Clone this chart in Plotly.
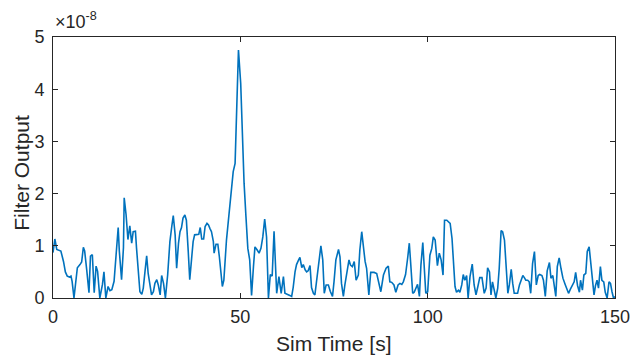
import plotly.graph_objects as go

# Sim time [s]
sim_time = [
    0.0, 0.5, 1.0, 1.7, 2.1, 2.8, 3.3, 3.8, 4.4, 4.8, 5.1, 5.6, 6.5, 7.2, 7.65, 8.1, 8.45, 9.0, 9.6, 10.0,
    10.5, 11.0, 11.5, 11.9, 12.5, 13.2, 13.6, 14.1, 14.7, 15.2, 15.7, 16.3, 16.8, 17.4, 17.7, 18.1, 18.3, 18.8, 19.0, 19.5,
    20.0, 20.5, 21.0, 21.4, 22.0, 22.3, 22.8, 23.2, 23.7, 24.1, 24.6, 25.0, 25.4, 25.9, 26.3, 26.8, 27.2, 27.7, 28.1, 28.6,
    29.0, 29.5, 30.0, 30.6, 31.2, 31.7, 32.1, 32.6, 33.0, 33.5, 33.9, 34.3, 34.7, 35.2, 35.6, 36.1, 36.5, 37.0, 37.4, 37.8,
    38.3, 38.9, 39.3, 39.7, 40.2, 40.6, 41.1, 41.5, 41.9, 42.3, 42.8, 43.0, 43.5, 44.0, 44.4, 44.8, 45.2, 45.6, 46.3, 47.0,
    47.6, 48.1, 48.6, 49.0, 49.5, 50.1, 50.5, 51.0, 51.5, 52.0, 52.5, 53.0, 53.5, 53.9, 54.5, 55.0, 55.5, 56.0, 56.5, 57.0,
    57.5, 58.0, 58.5, 59.0, 59.7, 60.3, 60.9, 61.5, 61.9, 62.6, 63.2, 63.7, 64.1, 64.6, 65.0, 65.5, 65.9, 66.4, 66.8, 67.3,
    67.7, 68.1, 68.6, 69.0, 69.5, 69.9, 70.5, 71.1, 71.5, 72.0, 72.4, 72.9, 73.5, 74.0, 74.6, 75.0, 75.5, 76.2, 76.6, 77.0,
    77.5, 77.9, 78.4, 79.0, 79.4, 79.9, 80.4, 80.9, 81.5, 81.9, 82.4, 82.8, 83.3, 83.7, 84.3, 84.8, 85.3, 85.7, 86.4, 87.0,
    87.5, 88.2, 88.9, 89.5, 89.9, 90.4, 91.0, 91.5, 92.1, 92.6, 93.1, 93.5, 94.1, 94.7, 95.1, 95.5, 96.0, 96.4, 96.9, 97.3,
    97.8, 98.2, 98.7, 99.1, 99.5, 100.0, 100.6, 101.1, 101.5, 102.0, 102.6, 103.1, 103.6, 104.1, 104.5, 105.1, 105.6, 106.0, 106.5, 106.9,
    107.3, 107.7, 108.2, 108.6, 109.1, 109.5, 109.9, 110.4, 110.8, 111.3, 111.9, 112.4, 112.9, 113.4, 113.9, 114.5, 115.1, 115.6, 116.0, 116.5,
    116.9, 117.3, 117.8, 118.2, 118.7, 119.1, 119.6, 120.0, 120.5, 120.9, 121.4, 121.8, 122.3, 122.7, 123.1, 123.6, 124.0, 124.5, 124.9, 125.4,
    125.8, 126.2, 126.7, 127.1, 127.5, 128.0, 128.5, 129.0, 129.5, 129.9, 130.5, 130.9, 131.4, 131.9, 132.5, 132.9, 133.4, 133.7, 134.2, 134.6,
    135.1, 135.6, 136.1, 136.7, 137.1, 137.6, 138.1, 138.6, 139.1, 139.5, 140.0, 140.5, 140.8, 141.3, 141.7, 142.2, 142.6, 143.1, 143.6, 144.0,
    144.4, 144.8, 145.2, 145.6, 146.1, 146.5, 147.0, 147.4, 147.9, 148.4, 148.8, 149.2, 149.6, 150.0,
]

# Filter output in units of 1e-8
filter_output_e8 = [
    0.87, 1.13, 0.93, 0.92, 0.9, 0.7, 0.5, 0.42, 0.4, 0.42, 0.32, 0.0, 0.58, 0.64, 0.69, 0.97, 0.9, 0.54, 0.1, 0.8,
    0.83, 0.1, 0.61, 0.51, 0.0, 0.26, 0.5, 0.0, 0.22, 0.14, 0.16, 0.32, 0.8, 1.35, 0.9, 0.45, 0.35, 0.96, 1.92, 1.6,
    1.12, 1.38, 1.05, 1.27, 1.28, 0.95, 0.44, 0.12, 0.07, 0.19, 0.54, 0.81, 0.47, 0.19, 0.06, 0.12, 0.28, 0.35, 0.25, 0.06,
    0.43, 0.28, 0.0, 0.44, 1.08, 1.37, 1.58, 1.21, 0.57, 1.05, 1.27, 1.35, 1.53, 1.59, 1.49, 0.89, 0.35, 0.76, 1.08, 1.21,
    1.22, 1.22, 1.35, 1.13, 1.13, 1.37, 1.43, 1.4, 1.33, 1.27, 1.08, 0.86, 1.03, 1.03, 0.79, 0.41, 0.22, 0.34, 1.11, 1.62,
    2.13, 2.42, 2.58, 3.6, 4.75, 4.11, 3.03, 2.2, 1.56, 0.95, 0.73, 0.05, 0.6, 0.98, 0.92, 0.86, 0.95, 1.17, 1.51, 1.17,
    0.0, 0.45, 0.42, 1.28, 0.09, 0.41, 0.09, 0.41, 0.09, 0.06, 0.05, 0.03, 0.2, 0.5, 0.64, 0.72, 0.78, 0.58, 0.64, 0.54,
    0.5, 0.52, 0.62, 0.2, 0.09, 0.06, 0.41, 0.79, 1.0, 0.73, 0.09, 0.25, 0.25, 0.13, 0.03, 0.31, 0.73, 0.93, 0.79, 0.28,
    0.03, 0.25, 0.5, 0.73, 0.63, 0.6, 0.7, 0.34, 0.44, 0.92, 1.27, 0.98, 0.7, 0.57, 0.06, 0.49, 0.49, 0.49, 0.47, 0.28,
    0.12, 0.44, 0.57, 0.61, 0.31, 0.3, 0.25, 0.11, 0.25, 0.28, 0.26, 0.31, 0.45, 0.79, 1.05, 0.63, 0.09, 0.11, 0.2, 0.26,
    0.03, 0.63, 1.06, 0.54, 0.09, 0.12, 0.82, 0.95, 1.17, 1.11, 0.62, 0.86, 0.73, 0.44, 1.49, 1.49, 1.46, 1.43, 1.14, 0.73,
    0.22, 0.11, 0.15, 0.11, 0.25, 0.45, 0.34, 0.43, 0.0, 0.41, 0.65, 0.25, 0.06, 0.22, 0.39, 0.39, 0.09, 0.19, 0.58, 0.5,
    0.06, 0.31, 0.12, 0.0, 0.19, 0.57, 1.29, 1.27, 1.11, 0.66, 0.09, 0.25, 0.55, 0.28, 0.09, 0.09, 0.09, 0.25, 0.34, 0.43,
    0.39, 0.34, 0.34, 0.31, 0.09, 0.66, 0.89, 0.25, 0.43, 0.45, 0.43, 0.34, 0.03, 0.52, 0.68, 0.38, 0.43, 0.25, 0.03, 0.6,
    0.77, 0.56, 0.38, 0.26, 0.17, 0.09, 0.17, 0.24, 0.31, 0.49, 0.24, 0.11, 0.34, 0.15, 0.44, 0.47, 0.89, 0.98, 0.6, 0.24,
    0.06, 0.24, 0.34, 0.19, 0.6, 0.34, 0.31, 0.11, 0.0, 0.31, 0.28, 0.12, 0.0, 0.03,
]

x_ticks = [0, 50, 100, 150]
y_ticks_e8 = [0, 1, 2, 3, 4, 5]
scale = 1e-8

filter_output = [v * scale for v in filter_output_e8]

axis_color = "#262626"
font_family = "Liberation Sans, Arial, Helvetica, sans-serif"

fig = go.Figure()
fig.add_trace(go.Scatter(
    x=sim_time, y=filter_output, mode="lines",
    line=dict(color="#0072BD", width=1.6),
    showlegend=False,
))

common_axis = dict(
    showline=True, linecolor=axis_color, linewidth=1,
    mirror="ticks", ticks="inside", ticklen=5, tickwidth=1, tickcolor=axis_color,
    showgrid=False, zeroline=False, automargin=False,
    tickfont=dict(family=font_family, size=18, color=axis_color),
)

fig.update_layout(
    width=633, height=357,
    margin=dict(l=53, r=18, t=37, b=59),
    paper_bgcolor="white", plot_bgcolor="white",
    xaxis=dict(
        range=[0, 150], tickvals=x_ticks, ticktext=[str(v) for v in x_ticks],
        ticklabelstandoff=2,
        **common_axis,
    ),
    yaxis=dict(
        range=[0, 5 * scale], tickvals=[v * scale for v in y_ticks_e8],
        ticktext=[str(v) for v in y_ticks_e8],
        ticklabelstandoff=4,
        **common_axis,
    ),
    annotations=[
        dict(
            text="×10<sup>-8</sup>", xref="paper", yref="paper", x=0, y=1,
            xanchor="left", yanchor="bottom", showarrow=False, xshift=0, yshift=3,
            font=dict(family=font_family, size=18, color=axis_color),
        ),
        dict(
            text="Sim Time [s]", xref="paper", yref="paper", x=0.5, y=-45 / 261,
            xanchor="center", yanchor="middle", showarrow=False,
            font=dict(family=font_family, size=21, color=axis_color),
        ),
        dict(
            text="Filter Output", xref="paper", yref="paper", x=-31 / 562, y=0.48,
            xanchor="center", yanchor="middle", showarrow=False, textangle=-90,
            font=dict(family=font_family, size=21, color=axis_color),
        ),
    ],
)

fig.write_html(
    "out.html",
    config={"displayModeBar": False},
    post_script="document.body.style.margin='0';",
)
